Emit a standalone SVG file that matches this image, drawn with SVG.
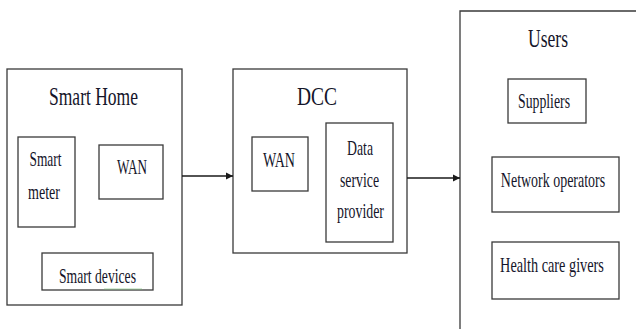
<svg xmlns="http://www.w3.org/2000/svg" width="636" height="329" viewBox="0 0 636 329">
  <style>
    .box { fill: #ffffff; stroke: #3a3a3a; stroke-width: 1.3; }
    .wire { fill: none; stroke: #1a1a1a; stroke-width: 1.5; }
    text { font-family: "Liberation Serif", "Times New Roman", serif; fill: #15152a; text-anchor: middle; }
    .title { font-size: 26px; }
    .label { font-size: 21px; }
  </style>
  <defs>
    <marker id="head" viewBox="0 0 10 10" refX="10" refY="5" markerWidth="7" markerHeight="8" markerUnits="userSpaceOnUse" orient="auto">
      <path d="M0,0 L10,5 L0,10 Z" fill="#1a1a1a"/>
    </marker>
  </defs>
  <rect width="636" height="329" fill="#ffffff"/>

  <!-- Smart Home -->
  <g id="smart-home">
    <rect class="box" x="7" y="69" width="175" height="236"/>
    <text class="title" x="93.5" y="105" textLength="89" lengthAdjust="spacingAndGlyphs">Smart Home</text>
  </g>
  <g id="smart-meter">
    <rect class="box" x="18" y="137" width="57" height="90"/>
    <text class="label" x="45.5" y="166" textLength="32" lengthAdjust="spacingAndGlyphs">Smart</text>
    <text class="label" x="44" y="199" textLength="32" lengthAdjust="spacingAndGlyphs">meter</text>
  </g>
  <g id="home-wan">
    <rect class="box" x="99" y="145" width="64" height="54"/>
    <text class="label" x="132" y="174" textLength="30" lengthAdjust="spacingAndGlyphs">WAN</text>
  </g>
  <g id="smart-devices">
    <rect class="box" x="42" y="253" width="111" height="37"/>
    <text class="label" x="97.5" y="283" textLength="77" lengthAdjust="spacingAndGlyphs">Smart devices</text>
    <path d="M104,289.5 l1,-1 1,1 1,-1 1,1 1,-1 1,1 1,-1 1,1 1,-1 1,1 1,-1 1,1 1,-1 1,1 1,-1 1,1 1,-1 1,1 1,-1 1,1 1,-1 1,1 1,-1 1,1 1,-1 1,1 1,-1 1,1 1,-1 1,1 1,-1 1,1 1,-1 1,1 1,-1 1,1 1,-1 1,1" fill="none" stroke="#7cc47c" stroke-width="0.7"/>
  </g>

  <!-- DCC -->
  <g id="dcc">
    <rect class="box" x="233" y="69" width="174" height="184"/>
    <text class="title" x="317" y="105" textLength="40" lengthAdjust="spacingAndGlyphs">DCC</text>
  </g>
  <g id="dcc-wan">
    <rect class="box" x="252" y="137" width="56" height="54"/>
    <text class="label" x="279" y="167" textLength="32" lengthAdjust="spacingAndGlyphs">WAN</text>
  </g>
  <g id="data-service-provider">
    <rect class="box" x="326" y="123" width="67" height="119"/>
    <text class="label" x="360" y="155" textLength="26" lengthAdjust="spacingAndGlyphs">Data</text>
    <text class="label" x="359.5" y="187" textLength="39" lengthAdjust="spacingAndGlyphs">service</text>
    <text class="label" x="360.5" y="218" textLength="47" lengthAdjust="spacingAndGlyphs">provider</text>
  </g>

  <!-- Users (box runs past the right and bottom edges) -->
  <g id="users">
    <path class="box" d="M460,330 L460,11 L637,11"/>
    <text class="title" x="548" y="47" textLength="40" lengthAdjust="spacingAndGlyphs">Users</text>
  </g>
  <g id="suppliers">
    <rect class="box" x="508" y="79" width="78" height="44"/>
    <text class="label" x="544" y="108" textLength="52" lengthAdjust="spacingAndGlyphs">Suppliers</text>
  </g>
  <g id="network-operators">
    <rect class="box" x="492" y="157" width="127" height="55"/>
    <text class="label" transform="translate(553,187) scale(0.665,1)">Network operators</text>
  </g>
  <g id="health-care-givers">
    <rect class="box" x="492" y="242" width="127" height="57"/>
    <text class="label" transform="translate(552,272) scale(0.68,1)">Health care givers</text>
  </g>

  <!-- Connectors -->
  <g id="connectors">
    <line class="wire" x1="182" y1="176" x2="233" y2="176" marker-end="url(#head)"/>
    <line class="wire" x1="407" y1="178" x2="460" y2="178" marker-end="url(#head)"/>
  </g>
</svg>
